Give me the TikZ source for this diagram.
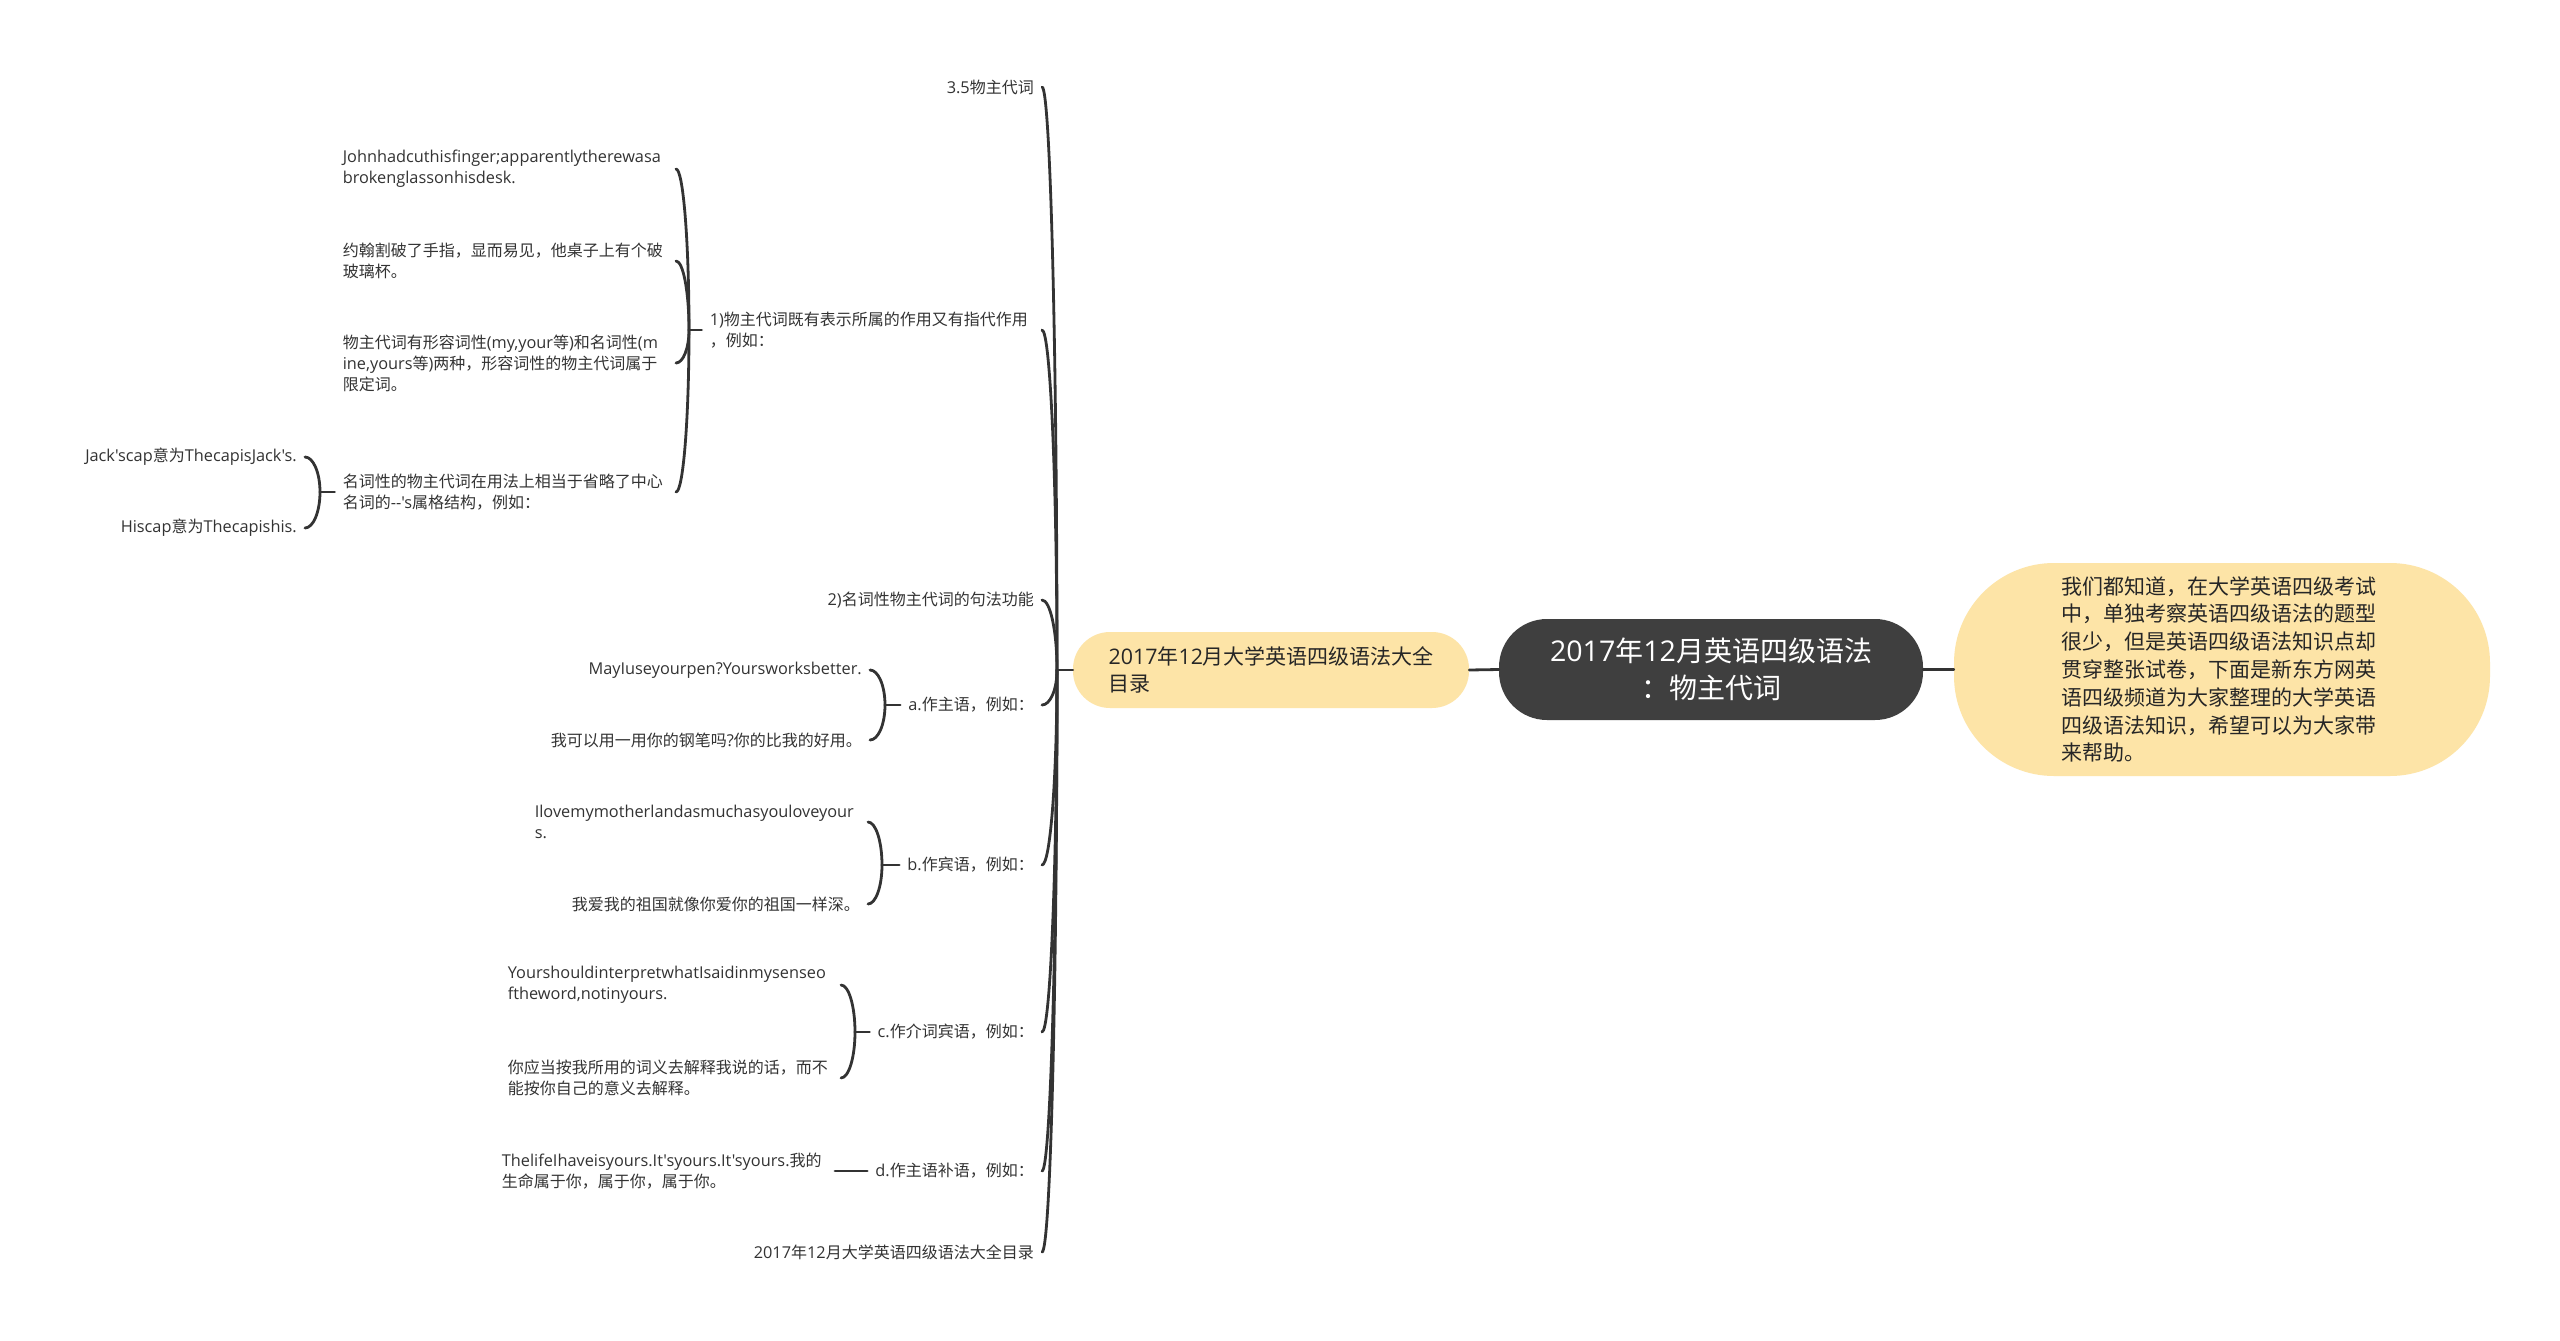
\documentclass[tikz,border=0pt]{standalone}
\usepackage{fontspec}
\newfontfamily\cjk{Noto Sans CJK SC}
\newfontfamily\lat[Scale=1.02]{Open Sans}
\newcommand\EN[1]{{\lat #1}}
\usetikzlibrary{calc}
\definecolor{ln}{HTML}{333333}
\definecolor{txt}{HTML}{333333}
\definecolor{dark}{HTML}{3F3F3F}
\definecolor{yel}{HTML}{FDE4A7}
\newcommand\brconn[2]{\draw[conn] (#1) .. controls ($(#1)!0.552!(#1|-#2)$) and ($(#2)!0.552!(#1|-#2)$) .. (#2);}
\tikzset{
  leaf/.style={font=\cjk\fontsize{16}{21}\selectfont, text=txt, inner xsep=8pt, inner ysep=2pt, anchor=east},
  wrap/.style={leaf, text width=325pt, align=left},
  conn/.style={draw=ln, line width=2.8pt, line cap=round},
  central/.style={fill=dark, text=white, rounded corners=48pt, minimum width=424pt, minimum height=101pt, align=center, inner sep=0pt, font=\cjk\fontsize{28}{37}\selectfont},
  side/.style={fill=yel, text=black!85, align=left, inner sep=0pt, font=\cjk\fontsize{21}{27.8}\selectfont},
}
\begin{document}
\begin{tikzpicture}[x=1pt,y=-1pt]
\fill[white] (0,0) rectangle (2560,1341);
\useasboundingbox (0,0) rectangle (2560,1341);

% main nodes
\node[central] (C) at (1711,669.5) {\EN{2017}年\EN{12}月英语四级语法\\：物主代词};
\node[side, minimum width=396pt, minimum height=76pt, rounded corners=37pt, text width=325pt] (L) at (1271,670) {\EN{2017}年\EN{12}月大学英语四级语法大全\\目录};
\node[side, minimum width=536pt, minimum height=213pt, rounded corners=100pt, text width=322pt] (R) at (2222,669.5) {我们都知道，在大学英语四级考试\\中，单独考察英语四级语法的题型\\很少，但是英语四级语法知识点却\\贯穿整张试卷，下面是新东方网英\\语四级频道为大家整理的大学英语\\四级语法知识，希望可以为大家带\\来帮助。};
\draw[conn] (C.west) -- (L.east);
\draw[conn] (C.east) -- (R.west);

% level 1
\node[leaf] (m1) at (1042,87) {\EN{3.5}物主代词};
\node[wrap, text width=324pt] (m2) at (1042,330) {\EN{1)}物主代词既有表示所属的作用又有指代作用\\，例如：};
\node[leaf] (m3) at (1042,600) {\EN{2)}名词性物主代词的句法功能};
\node[leaf] (m4) at (1042,705) {\EN{a.}作主语，例如：};
\node[leaf] (m5) at (1042,865) {\EN{b.}作宾语，例如：};
\node[leaf] (m6) at (1042,1032) {\EN{c.}作介词宾语，例如：};
\node[leaf] (m7) at (1042,1171) {\EN{d.}作主语补语，例如：};
\node[leaf] (m8) at (1042,1252) {\EN{2017}年\EN{12}月大学英语四级语法大全目录};
\coordinate (s0) at (1057,670);
\draw[conn] (L.west) -- (s0);
\foreach \m in {m1,m2,m3,m4,m5,m6,m7,m8}{\brconn{s0}{\m.east}}

% under 1)
\node[wrap] (n1) at (676,169) {\EN{Johnhadcuthisfinger;apparentlytherewasa}\\\EN{brokenglassonhisdesk.}};
\node[wrap] (n2) at (676,261) {约翰割破了手指，显而易见，他桌子上有个破\\玻璃杯。};
\node[wrap] (n3) at (676,363) {物主代词有形容词性\EN{(my,your}等\EN{)}和名词性\EN{(m}\\\EN{ine,yours}等\EN{)}两种，形容词性的物主代词属于\\限定词。};
\node[wrap] (n4) at (676,492) {名词性的物主代词在用法上相当于省略了中心\\名词的\EN{--'s}属格结构，例如：};
\coordinate (s1) at (689,330);
\draw[conn] (m2.west) -- (s1);
\foreach \m in {n1,n2,n3,n4}{\brconn{s1}{\m.east}}

% under 名词性
\node[leaf] (o1) at (305,457) {\EN{Jack'scap}意为\EN{ThecapisJack's.}};
\node[leaf] (o2) at (305,528) {\EN{Hiscap}意为\EN{Thecapishis.}};
\coordinate (s2) at (320,492);
\draw[conn] (n4.west) -- (s2);
\foreach \m in {o1,o2}{\brconn{s2}{\m.east}}

% under a
\node[leaf] (p1) at (870,670) {\EN{MayIuseyourpen?Yoursworksbetter.}};
\node[leaf] (p2) at (870,740) {我可以用一用你的钢笔吗\EN{?}你的比我的好用。};
\coordinate (sa) at (885,705);
\draw[conn] (m4.west) -- (sa);
\foreach \m in {p1,p2}{\brconn{sa}{\m.east}}

% under b
\node[wrap] (q1) at (868,822) {\EN{Ilovemymotherlandasmuchasyouloveyour}\\\EN{s.}};
\node[leaf] (q2) at (868,904) {我爱我的祖国就像你爱你的祖国一样深。};
\coordinate (sb) at (882,865);
\draw[conn] (m5.west) -- (sb);
\foreach \m in {q1,q2}{\brconn{sb}{\m.east}}

% under c
\node[wrap] (r1) at (841,985) {\EN{YourshouldinterpretwhatIsaidinmysenseo}\\\EN{ftheword,notinyours.}};
\node[wrap] (r2) at (841,1078) {你应当按我所用的词义去解释我说的话，而不\\能按你自己的意义去解释。};
\coordinate (sc) at (855,1032);
\draw[conn] (m6.west) -- (sc);
\foreach \m in {r1,r2}{\brconn{sc}{\m.east}}

% under d
\node[wrap] (t1) at (835,1171) {\EN{ThelifeIhaveisyours.It'syours.It'syours.}我的\\生命属于你，属于你，属于你。};
\draw[conn] (m7.west) -- (t1.east);
\end{tikzpicture}
\end{document}
